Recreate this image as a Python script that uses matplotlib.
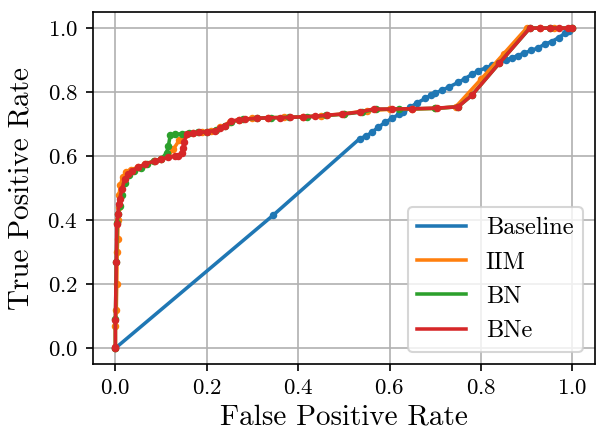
import matplotlib
matplotlib.use("Agg")
import matplotlib.pyplot as plt

plt.rcParams["font.family"] = "serif"
plt.rcParams["font.serif"] = ["cmr10"]
plt.rcParams["mathtext.fontset"] = "cm"
plt.rcParams["axes.formatter.use_mathtext"] = True

# ROC curves
baseline_fpr = [0.0, 0.345, 0.535, 0.548, 0.561, 0.575, 0.59, 0.605, 0.62, 0.63,
                0.645, 0.66, 0.678, 0.69, 0.70, 0.715, 0.73, 0.75, 0.765, 0.78,
                0.794, 0.81, 0.825, 0.84, 0.855, 0.867, 0.88, 0.895, 0.91, 0.925,
                0.94, 0.955, 0.97, 0.984, 0.993, 1.0]
baseline_tpr = [0.0, 0.415, 0.655, 0.662, 0.674, 0.69, 0.705, 0.718, 0.73, 0.737,
                0.752, 0.766, 0.78, 0.79, 0.797, 0.806, 0.816, 0.83, 0.842, 0.855,
                0.867, 0.875, 0.884, 0.893, 0.9, 0.906, 0.914, 0.922, 0.93, 0.938,
                0.95, 0.958, 0.97, 0.984, 0.99, 1.0]

iim_fpr = [0.0, 0.0, 0.002, 0.003, 0.004, 0.005, 0.006, 0.007, 0.008, 0.011,
           0.016, 0.024, 0.034, 0.05, 0.065, 0.085, 0.1, 0.115, 0.127, 0.14,
           0.152, 0.17, 0.19, 0.21, 0.23, 0.25, 0.27, 0.3, 0.335, 0.37,
           0.41, 0.45, 0.5, 0.55, 0.6, 0.65, 0.7, 0.745, 0.8, 0.85,
           0.9, 0.93, 0.96, 1.0]
iim_tpr = [0.0, 0.07, 0.12, 0.2, 0.3, 0.34, 0.4, 0.44, 0.48, 0.51,
           0.535, 0.55, 0.558, 0.565, 0.575, 0.585, 0.59, 0.6, 0.622, 0.65,
           0.666, 0.672, 0.675, 0.678, 0.69, 0.706, 0.714, 0.718, 0.72, 0.721,
           0.723, 0.726, 0.732, 0.742, 0.746, 0.747, 0.749, 0.754, 0.84, 0.92,
           1.0, 1.0, 1.0, 1.0]

bn_fpr = [0.0, 0.0, 0.002, 0.004, 0.006, 0.01, 0.014, 0.02, 0.03, 0.04,
          0.055, 0.07, 0.085, 0.1, 0.112, 0.116, 0.12, 0.13, 0.145, 0.16,
          0.18, 0.2, 0.22, 0.24, 0.254, 0.28, 0.31, 0.34, 0.38, 0.42,
          0.46, 0.5, 0.54, 0.57, 0.62, 0.7, 0.75, 0.78, 0.84, 0.907,
          0.95, 1.0]
bn_tpr = [0.0, 0.09, 0.27, 0.39, 0.42, 0.445, 0.48, 0.515, 0.54, 0.552,
          0.562, 0.575, 0.585, 0.59, 0.61, 0.632, 0.665, 0.668, 0.67, 0.672,
          0.674, 0.676, 0.68, 0.694, 0.708, 0.715, 0.718, 0.72, 0.721, 0.723,
          0.727, 0.731, 0.738, 0.746, 0.747, 0.749, 0.754, 0.79, 0.89, 1.0,
          1.0, 1.0]

bne_fpr = [0.0, 0.0, 0.0, 0.002, 0.003, 0.005, 0.008, 0.01, 0.014, 0.021,
           0.028, 0.036, 0.05, 0.065, 0.087, 0.1, 0.116, 0.13, 0.138, 0.145,
           0.148, 0.15, 0.156, 0.17, 0.182, 0.2, 0.218, 0.23, 0.24, 0.254,
           0.27, 0.284, 0.31, 0.335, 0.36, 0.382, 0.411, 0.437, 0.462, 0.495,
           0.535, 0.565, 0.605, 0.65, 0.703, 0.75, 0.78, 0.84, 0.907, 0.93,
           0.95, 0.97, 0.99, 1.0]
bne_tpr = [0.0, 0.005, 0.088, 0.27, 0.3875, 0.42, 0.45, 0.466, 0.497, 0.528,
           0.545, 0.554, 0.565, 0.575, 0.585, 0.59, 0.596, 0.6, 0.601, 0.611,
           0.625, 0.643, 0.669, 0.672, 0.674, 0.676, 0.679, 0.688, 0.695, 0.71,
           0.713, 0.716, 0.718, 0.72, 0.72, 0.721, 0.723, 0.724, 0.728, 0.731,
           0.738, 0.747, 0.747, 0.748, 0.75, 0.754, 0.79, 0.89, 1.0, 1.0,
           1.0, 1.0, 1.0, 1.0]

series = [
    ("Baseline", baseline_fpr, baseline_tpr, "tab:blue"),
    ("IIM", iim_fpr, iim_tpr, "tab:orange"),
    ("BN", bn_fpr, bn_tpr, "tab:green"),
    ("BNe", bne_fpr, bne_tpr, "tab:red"),
]

fig = plt.figure(figsize=(3.98, 2.887), dpi=150)
ax = fig.add_axes([0.155, 0.159, 0.842, 0.813])

for name, fpr, tpr, color in series:
    ax.plot(fpr, tpr, color=color, lw=1.7, label=name)
    ax.plot(fpr, tpr, "o", color=color, ms=2.6)

ax.set_xlabel("False Positive Rate", fontsize=14, labelpad=3)
ax.set_ylabel("True Positive Rate", fontsize=14, labelpad=6)
ax.tick_params(labelsize=11)
ax.grid(True)
ax.legend(loc="lower right", fontsize=11.7)

fig.savefig("out.png", dpi=150)
